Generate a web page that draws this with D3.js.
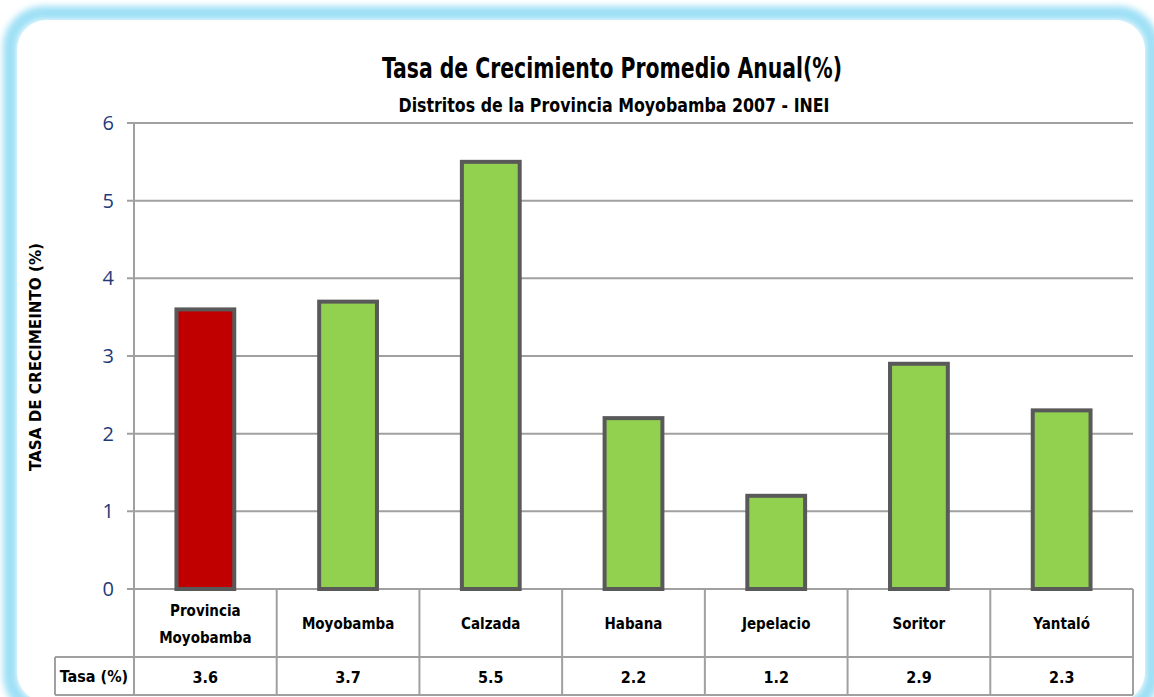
<!DOCTYPE html>
<html>
<head>
<meta charset="utf-8">
<script src="https://cdn.jsdelivr.net/npm/d3@7"></script>
<style>
  body { margin: 0; background: #ffffff; }
  svg { display: block; }
</style>
</head>
<body>
<div class="chart"></div>
<script>
// chart data
var categories = ["Provincia Moyobamba", "Moyobamba", "Calzada", "Habana", "Jepelacio", "Soritor", "Yantaló"];
var tasa = [3.6, 3.7, 5.5, 2.2, 1.2, 2.9, 2.3];
var tasaLabels = ["3.6", "3.7", "5.5", "2.2", "1.2", "2.9", "2.3"];
var yTicks = [0, 1, 2, 3, 4, 5, 6];

var svgWidth = 1154;
var svgHeight = 697;

var margin = { top: 123, right: 21, bottom: 108, left: 134 };
var width = svgWidth - margin.left - margin.right;
var height = svgHeight - margin.top - margin.bottom;

var handFont = "'DejaVu Sans Condensed', 'Liberation Sans Narrow', sans-serif";

var svg = d3.select(".chart")
  .append("svg")
  .attr("width", svgWidth)
  .attr("height", svgHeight);

// glow for the panel border
var defs = svg.append("defs");
var glow = defs.append("filter")
  .attr("id", "glow")
  .attr("x", "-5%").attr("y", "-5%")
  .attr("width", "110%").attr("height", "110%");
glow.append("feGaussianBlur").attr("stdDeviation", 3);

svg.append("rect")
  .attr("x", 10).attr("y", 13)
  .attr("width", 1142).attr("height", 696)
  .attr("rx", 34)
  .attr("fill", "none")
  .attr("stroke", "#9fe0f6")
  .attr("stroke-width", 14)
  .attr("filter", "url(#glow)");

svg.append("rect")
  .attr("x", 17).attr("y", 20)
  .attr("width", 1128).attr("height", 682)
  .attr("rx", 30)
  .attr("fill", "#ffffff");

// titles
svg.append("text")
  .attr("x", 612).attr("y", 78)
  .attr("text-anchor", "middle")
  .attr("font-family", handFont)
  .attr("font-weight", "bold")
  .attr("font-size", 29)
  .attr("textLength", 460)
  .attr("lengthAdjust", "spacingAndGlyphs")
  .text("Tasa de Crecimiento Promedio Anual(%)");

svg.append("text")
  .attr("x", 614).attr("y", 112)
  .attr("text-anchor", "middle")
  .attr("font-family", handFont)
  .attr("font-weight", "bold")
  .attr("font-size", 19)
  .attr("textLength", 431)
  .attr("lengthAdjust", "spacingAndGlyphs")
  .text("Distritos de la Provincia Moyobamba 2007 - INEI");

var chartGroup = svg.append("g")
  .attr("transform", `translate(${margin.left}, ${margin.top})`);

var xBandScale = d3.scaleBand()
  .domain(categories)
  .range([0, width])
  .padding(0);

var yLinearScale = d3.scaleLinear()
  .domain([0, 6])
  .range([height, 0]);

// gridlines
chartGroup.append("g")
  .selectAll("line")
  .data(yTicks)
  .enter()
  .append("line")
  .attr("x1", -7)
  .attr("x2", width)
  .attr("y1", d => yLinearScale(d))
  .attr("y2", d => yLinearScale(d))
  .attr("stroke", "#a0a0a0")
  .attr("stroke-width", 2);

// y axis line
chartGroup.append("line")
  .attr("x1", 0).attr("x2", 0)
  .attr("y1", 0).attr("y2", height)
  .attr("stroke", "#a0a0a0")
  .attr("stroke-width", 2);

// y tick labels
var leftAxis = d3.axisLeft(yLinearScale)
  .tickValues(yTicks)
  .tickFormat(d3.format("d"))
  .tickSize(0)
  .tickPadding(20);
var yAxis = chartGroup.append("g").call(leftAxis);
yAxis.select(".domain").remove();
yAxis.selectAll("text")
  .attr("font-family", "'Open Sans', sans-serif")
  .attr("font-size", 20)
  .attr("fill", "#1f3a78");

// y axis title
svg.append("text")
  .attr("transform", "translate(41, 357) rotate(-90)")
  .attr("text-anchor", "middle")
  .attr("font-family", handFont)
  .attr("font-weight", "bold")
  .attr("font-size", 15)
  .attr("textLength", 228)
  .attr("lengthAdjust", "spacingAndGlyphs")
  .text("TASA DE CRECIMEINTO (%)");

// bars
var barWidth = xBandScale.bandwidth() * 0.405;
chartGroup.selectAll(".bar")
  .data(tasa)
  .enter()
  .append("rect")
  .attr("class", "bar")
  .attr("x", (d, i) => xBandScale(categories[i]) + (xBandScale.bandwidth() - barWidth) / 2)
  .attr("y", d => yLinearScale(d))
  .attr("width", barWidth)
  .attr("height", d => height - yLinearScale(d))
  .attr("fill", (d, i) => i === 0 ? "#c00000" : "#92d050")
  .attr("stroke", "#595959")
  .attr("stroke-width", 4);

// data table below the chart
var rowSplit = height + 68;
var tableBottom = height + 106;
var table = chartGroup.append("g");

table.append("line")
  .attr("x1", -79).attr("x2", width)
  .attr("y1", rowSplit).attr("y2", rowSplit)
  .attr("stroke", "#a0a0a0").attr("stroke-width", 2);
table.append("line")
  .attr("x1", -79).attr("x2", width)
  .attr("y1", tableBottom).attr("y2", tableBottom)
  .attr("stroke", "#a0a0a0").attr("stroke-width", 2);
table.append("line")
  .attr("x1", -79).attr("x2", -79)
  .attr("y1", rowSplit).attr("y2", tableBottom)
  .attr("stroke", "#a0a0a0").attr("stroke-width", 2);

var edges = categories.map(c => xBandScale(c)).concat([width]);
table.selectAll(".vline")
  .data(edges)
  .enter()
  .append("line")
  .attr("class", "vline")
  .attr("x1", d => d).attr("x2", d => d)
  .attr("y1", height).attr("y2", tableBottom)
  .attr("stroke", "#a0a0a0").attr("stroke-width", 2);

// category labels
var catText = table.selectAll(".cat")
  .data(categories)
  .enter()
  .append("text")
  .attr("class", "cat")
  .attr("text-anchor", "middle")
  .attr("font-family", handFont)
  .attr("font-weight", "bold")
  .attr("font-size", 15)
  .attr("fill", "#000");

catText.each(function(d) {
  var words = d.split(" ");
  var cx = xBandScale(d) + xBandScale.bandwidth() / 2;
  var t = d3.select(this);
  if (words.length > 1) {
    words.forEach(function(w, j) {
      t.append("tspan")
        .attr("x", cx)
        .attr("y", height + 27 + j * 27)
        .text(w);
    });
  } else {
    t.attr("x", cx).attr("y", height + 40).text(d);
  }
});

// value row
table.append("text")
  .attr("x", -40).attr("y", rowSplit + 25)
  .attr("text-anchor", "middle")
  .attr("font-family", handFont)
  .attr("font-weight", "bold")
  .attr("font-size", 16)
  .text("Tasa (%)");

table.selectAll(".val")
  .data(tasaLabels)
  .enter()
  .append("text")
  .attr("class", "val")
  .attr("x", (d, i) => xBandScale(categories[i]) + xBandScale.bandwidth() / 2)
  .attr("y", rowSplit + 26)
  .attr("text-anchor", "middle")
  .attr("font-family", handFont)
  .attr("font-weight", "bold")
  .attr("font-size", 16)
  .text(d => d);
</script>
</body>
</html>
